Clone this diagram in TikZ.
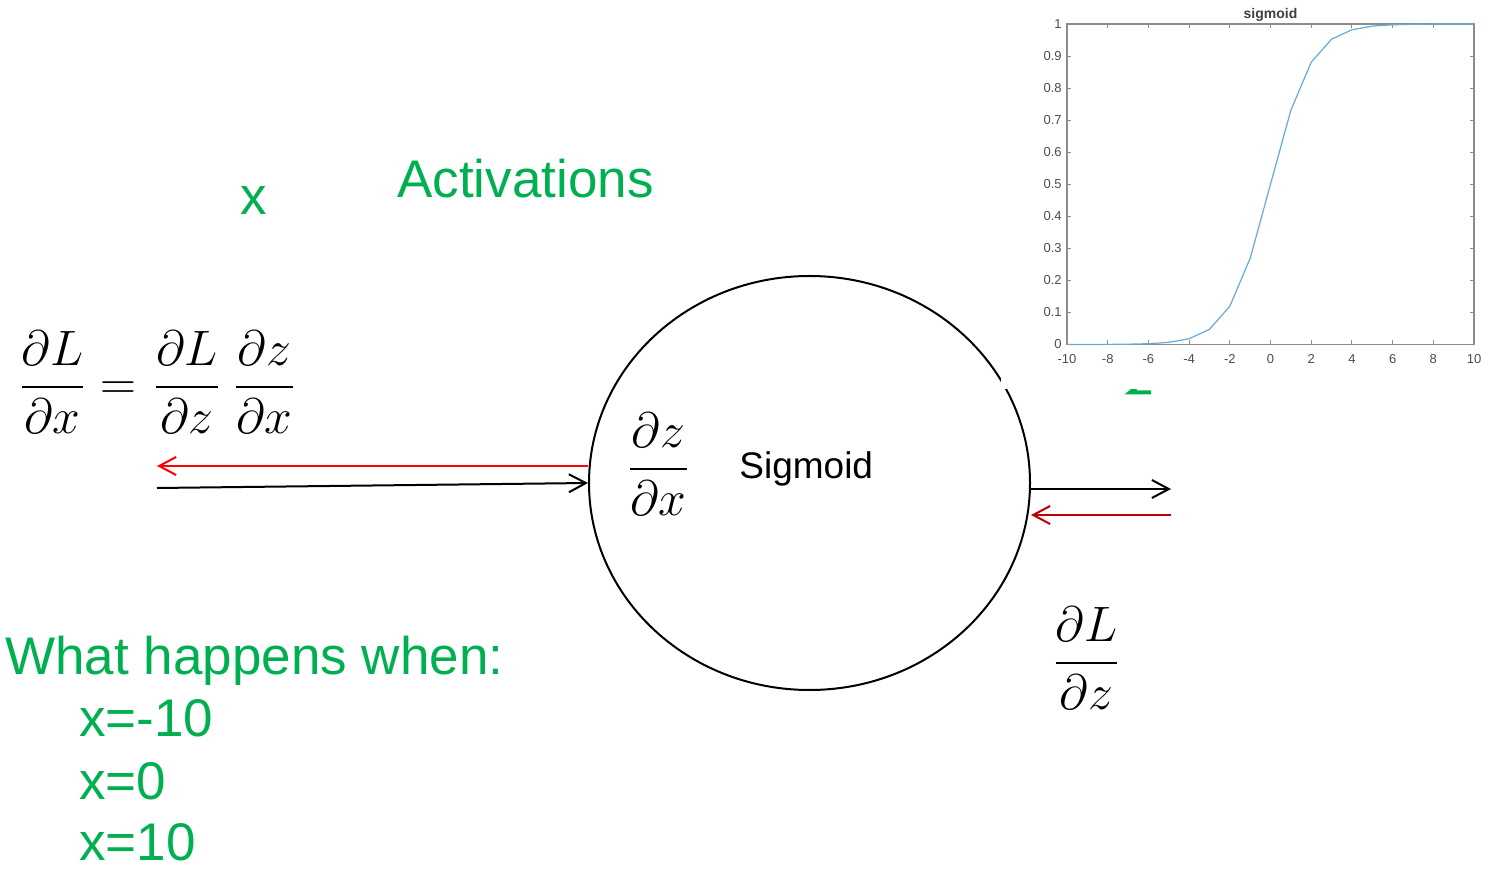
\documentclass[tikz,border=0pt]{standalone}
\usepackage{amsmath}
\usepackage{fontspec}
\setmainfont{Liberation Sans}
\usetikzlibrary{arrows.meta,shapes.geometric}
\definecolor{actgreen}{RGB}{0,176,80}
\definecolor{backred}{RGB}{255,0,0}
\definecolor{darkred}{RGB}{192,0,0}
\definecolor{plotgray}{RGB}{140,140,140}
\definecolor{curveblue}{RGB}{100,170,222}

\begin{document}
\begin{tikzpicture}[x=0.5pt,y=-0.5pt,
	gtxt/.style={text=actgreen,font=\fontsize{26.5}{30}\selectfont,inner sep=0,anchor=base west},
	mth/.style={anchor=base,inner sep=0,font=\fontsize{31}{36}\selectfont},
	fwd/.style={-{Straight Barb[length=8.5pt,width=9pt]},line width=1pt},
	ticklbl/.style={text=black!70,font=\fontsize{6.5}{7}\selectfont,inner sep=0}]
		\useasboundingbox (0,0) rectangle (1486,870);

		\node[draw,ellipse,line width=1pt,minimum width=220.5pt,minimum height=207pt,inner sep=0] (sig) at (809.5,483) {};
		\node[anchor=base west,inner sep=0,font=\fontsize{18.5}{22}\selectfont] (siglbl) at (739,479) {Sigmoid};
		\node[mth,font=\fontsize{34}{40}\selectfont] (dzdx) at (658.5,481) {$\dfrac{\partial z}{\partial x}$};

		\node[mth] (chainL) at (52.5,399.5) {$\dfrac{\partial L}{\partial x}$};
		\node[mth] (eqsign) at (118,399.5) {$=$};
		\node[mth] (chainZ) at (187,399.5) {$\dfrac{\partial L}{\partial z}$};
		\node[mth] (chainX) at (264.5,399.5) {$\dfrac{\partial z}{\partial x}$};
		\node[mth,font=\fontsize{26.5}{32}\selectfont] (dldz) at (1086.5,675) {$\dfrac{\partial L}{\partial z}$};

		\coordinate (inL) at (157,466);
		\coordinate (in) at (157,488);
		\coordinate (out) at (1171,489);
		\coordinate (outR) at (1171,515);

		\draw[fwd,backred] (sig.west |- inL) -- (inL);
		\draw[fwd] (in) -- (sig.west);
		\draw[fwd] (sig.east |- out) -- (out);
		\draw[fwd,darkred] (outR) -- (sig.east |- outR);

		\node[gtxt] (xin) at (240,215) {x};
		\node[gtxt] (act) at (397,198) {Activations};
		\node[gtxt] (quest) at (5,674) {What happens when:};
		\node[gtxt] (case1) at (79,736) {x=-10};
		\node[gtxt] (case2) at (79,799) {x=0};
		\node[gtxt] (case3) at (79,860) {x=10};

		\draw[actgreen,line width=2pt] (1138,386) -- (1130,392.5) -- (1151,392.5);
		\fill[white] (1001,0) rectangle (1486,389);

		\begin{scope}[shift={(1270.5,344.5)},x=10.175pt,y=160.25pt]
			\draw[plotgray,line width=0.6pt] (-10,0) rectangle (10,1);
			\foreach \t in {-10,-8,...,10} {
				\draw[plotgray,line width=0.5pt] (\t,0) -- ++(0,2pt) (\t,1) -- ++(0,-2pt);
				\node[ticklbl] at (\t,0) [yshift=-7.25pt] {\t};
			}
			\foreach \lbl [count=\k from 0] in {0,0.1,0.2,0.3,0.4,0.5,0.6,0.7,0.8,0.9,1} {
				\draw[plotgray,line width=0.5pt] (-10,\k/10) -- ++(2pt,0) (10,\k/10) -- ++(-2pt,0);
				\node[ticklbl,anchor=east] at (-10,\k/10) [xshift=-2.5pt] {\lbl};
			}
			\node[inner sep=0,text=black!75,font=\bfseries\fontsize{7}{8}\selectfont] (ptitle) at (0,1) [yshift=4.5pt] {sigmoid};
			\draw[curveblue,line width=0.6pt] plot coordinates {(-10,0.00005) (-9,0.00012) (-8,0.00034) (-7,0.00091) (-6,0.00247) (-5,0.00669) (-4,0.018) (-3,0.0474) (-2,0.1192) (-1,0.2689) (0,0.5) (1,0.7311) (2,0.8808) (3,0.9526) (4,0.982) (5,0.9933) (6,0.9975) (7,0.9991) (8,0.9997) (9,0.9999) (10,1)};
		\end{scope}

\end{tikzpicture}
\end{document}
